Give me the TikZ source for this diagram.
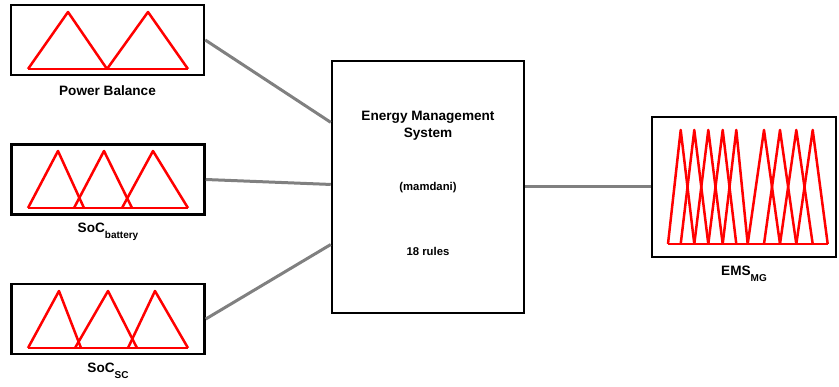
\documentclass[tikz,border=0pt]{standalone}
\usepackage{fontspec}
\setmainfont{Liberation Sans}
\usetikzlibrary{positioning}
\usetikzlibrary{calc}
\newcommand{\lowsub}[1]{\raisebox{-6pt}{\fontsize{10}{11}\selectfont #1}}

\begin{document}
\begin{tikzpicture}[x=1pt, y=-1pt,
        inbox/.style={draw, line width=2.5pt, rectangle, inner sep=0pt, minimum width=193pt, minimum height=70pt},
        lbl/.style={inner sep=0pt, font=\fontsize{13.6}{17}\selectfont\bfseries},
        small/.style={inner sep=0pt, font=\fontsize{11.3}{14}\selectfont\bfseries},
        mf/.style={draw=red, line width=2.5pt, line join=round},
        wire/.style={draw=gray, line width=3pt}]
        \useasboundingbox (0,0) rectangle (839,387);
        % inputs
        \node[inbox] (pb) at (107.5,40) {};
        \node[inbox] (socb) at (108,179.5) {};
        \node[inbox] (socs) at (108,319) {};
        \node[lbl, below=9pt of pb] (pblbl) {Power Balance};
        \node[lbl, below=7pt of socb] (socblbl) {SoC\lowsub{battery}};
        \node[lbl, below=8pt of socs] (socslbl) {SoC\lowsub{SC}};
        % rule block
        \node[draw, line width=2.5pt, rectangle, inner sep=0pt, minimum width=192pt, minimum height=252pt] (ems) at (428,187) {};
        \node[lbl, align=center] (title) at (428,126) {Energy Management\\System};
        \node[small] (type) at (428,188) {(mamdani)};
        \node[small] (rules) at (428,251) {18 rules};
        % output
        \node[draw, line width=2.5pt, rectangle, inner sep=0pt, minimum width=184pt, minimum height=140pt] (out) at (744,187) {};
        \node[lbl, below=8pt of out] (outlbl) {EMS\lowsub{MG}};
        % membership functions
        \foreach \a/\p/\b in {28/68/107, 107/148/188}
            \draw[mf] (\a,69) -- (\p,12) -- (\b,69);
        \draw[mf] (28,69) -- (188,69);
        \foreach \a/\p/\b in {28/58/84, 74/104/132, 122/153/188}
            \draw[mf] (\a,208) -- (\p,151) -- (\b,208);
        \draw[mf] (28,208) -- (188,208);
        \foreach \a/\p/\b in {28/59/81, 75/108/137, 128/155/188}
            \draw[mf] (\a,348) -- (\p,291) -- (\b,348);
        \draw[mf] (28,348) -- (188,348);
        \foreach \a/\p/\b in {668/680.7/694.3, 680.7/694.3/708.3, 694.3/708.3/722.7, 708.3/722.7/736.3, 722.7/736.3/747.7, 747.7/764/780, 764/780/796.3, 780/796.3/812.7, 796.3/812.7/827.7}
            \draw[mf] (\a,244) -- (\p,130) -- (\b,244);
        \draw[mf] (668,244) -- (827.7,244);
        % connectors
        \draw[wire] (pb.east) -- ($(ems.north west)!0.246!(ems.south west)$);
        \draw[wire] (socb.east) -- ($(ems.north west)!0.49!(ems.south west)$);
        \draw[wire] (socs.east) -- ($(ems.north west)!0.726!(ems.south west)$);
        \draw[wire] (ems.east) -- (out.west);
\end{tikzpicture}
\end{document}
